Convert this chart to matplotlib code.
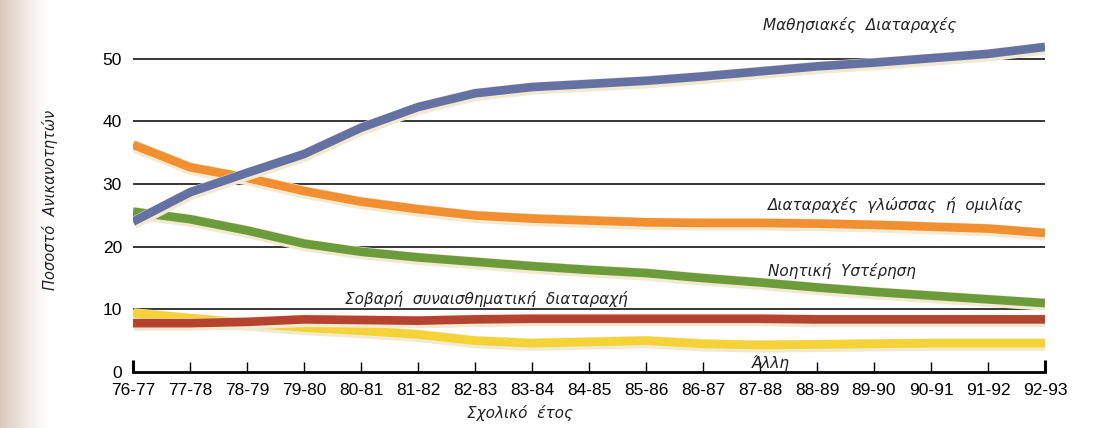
import numpy as np
import matplotlib
matplotlib.use('Agg')
import matplotlib.pyplot as plt
import matplotlib.patheffects as pe

# school years on the x axis
years = ['76-77', '77-78', '78-79', '79-80', '80-81', '81-82', '82-83', '83-84', '84-85',
         '85-86', '86-87', '87-88', '88-89', '89-90', '90-91', '91-92', '92-93']

# share of each disability category (%)
learning = [24.0, 28.7, 31.8, 34.8, 39.0, 42.3, 44.5, 45.5, 46.0, 46.5, 47.2, 48.0, 48.8, 49.4, 50.1, 50.8, 51.9]
speech = [36.3, 32.7, 31.0, 28.9, 27.2, 26.0, 25.0, 24.5, 24.2, 23.9, 23.8, 23.8, 23.7, 23.5, 23.2, 22.9, 22.2]
retard = [25.6, 24.4, 22.6, 20.5, 19.2, 18.3, 17.6, 16.9, 16.3, 15.8, 15.0, 14.3, 13.5, 12.8, 12.2, 11.6, 11.0]
emotional = [7.8, 7.8, 8.0, 8.4, 8.3, 8.2, 8.4, 8.5, 8.5, 8.5, 8.5, 8.5, 8.4, 8.4, 8.4, 8.4, 8.4]
other = [9.4, 8.6, 7.8, 7.1, 6.6, 6.0, 5.0, 4.6, 4.8, 5.0, 4.5, 4.3, 4.4, 4.5, 4.6, 4.6, 4.6]

yticks = [0, 10, 20, 30, 40, 50]

fig = plt.figure(figsize=(11.03, 4.28), dpi=100)

# page edge shading on the left
bg = fig.add_axes([0, 0, 1, 1], zorder=-1)
grad = np.ones((10, 1103, 3))
xs = np.arange(1103)
fade = np.clip(1 - xs / 50.0, 0, 1) ** 1.3
edge = np.array([0.86, 0.78, 0.74])
for c in range(3):
    grad[:, :, c] = 1 - fade * (1 - edge[c])
bg.imshow(grad, aspect='auto', extent=[0, 1, 0, 1])
bg.axis('off')

ax = fig.add_axes([133 / 1103, (428 - 372) / 428, 912 / 1103, 372 / 428])
ax.patch.set_alpha(0)
x = np.arange(len(years))

ax.set_xlim(0, len(years) - 1)
ax.set_ylim(0, 59.4)

for v in yticks[1:]:
    ax.plot([0, len(years) - 1], [v, v], color='black', lw=1.1, zorder=1)

halo = '#f1ead0'
series = [
    (other, '#f5d236'),
    (emotional, '#b5432f'),
    (retard, '#6c9b3b'),
    (speech, '#f28f30'),
    (learning, '#6571a3'),
]
for vals, col in series:
    ax.plot(x, vals, color=col, lw=6.2, solid_capstyle='butt', solid_joinstyle='round', zorder=3,
            path_effects=[pe.Stroke(linewidth=9, foreground=halo, offset=(0.5, -1)), pe.Normal()])

for s in ['left', 'right', 'top']:
    ax.spines[s].set_visible(False)
ax.spines['bottom'].set_linewidth(2)
ax.spines['bottom'].set_zorder(5)

ax.set_xticks(x)
ax.set_xticklabels(years, fontsize=12.5, family='Liberation Sans')
ax.tick_params(axis='x', direction='in', length=7, width=1, pad=8, colors='black')
ticks = ax.xaxis.get_major_ticks()
for t in (ticks[0], ticks[-1]):
    t.tick1line.set_markeredgewidth(2.2)
    t.tick1line.set_markersize(9)
ax.set_yticks(yticks)
ax.set_yticklabels([str(v) for v in yticks], fontsize=12.5, family='Liberation Sans')
ax.tick_params(axis='y', length=0, pad=8)

lab = dict(fontsize=11, style='italic', family='DejaVu Sans', color='#222222')
ax.text(12.75, 55.4, 'Μαθησιακές  Διαταραχές', ha='center', va='center', **lab)
ax.text(11.14, 26.7, 'Διαταραχές  γλώσσας  ή  ομιλίας', ha='left', va='center', **lab)
ax.text(11.14, 16.1, 'Νοητική  Υστέρηση', ha='left', va='center', **lab)
ax.text(3.72, 10.3, 'Σοβαρή  συναισθηματική  διαταραχή', ha='left', va='bottom', **lab)
ax.text(10.86, 0.2, 'Άλλη', ha='left', va='bottom', **lab)

fig.text(50 / 1103, 1 - 200 / 428, 'Ποσοστό  Ανικανοτητών', rotation=90, ha='center', va='center',
         **dict(lab, fontsize=10.5))
fig.text(520 / 1103, 1 - 413 / 428, 'Σχολικό  έτος', ha='center', va='center', **lab)

fig.savefig('out.png', dpi=100)
